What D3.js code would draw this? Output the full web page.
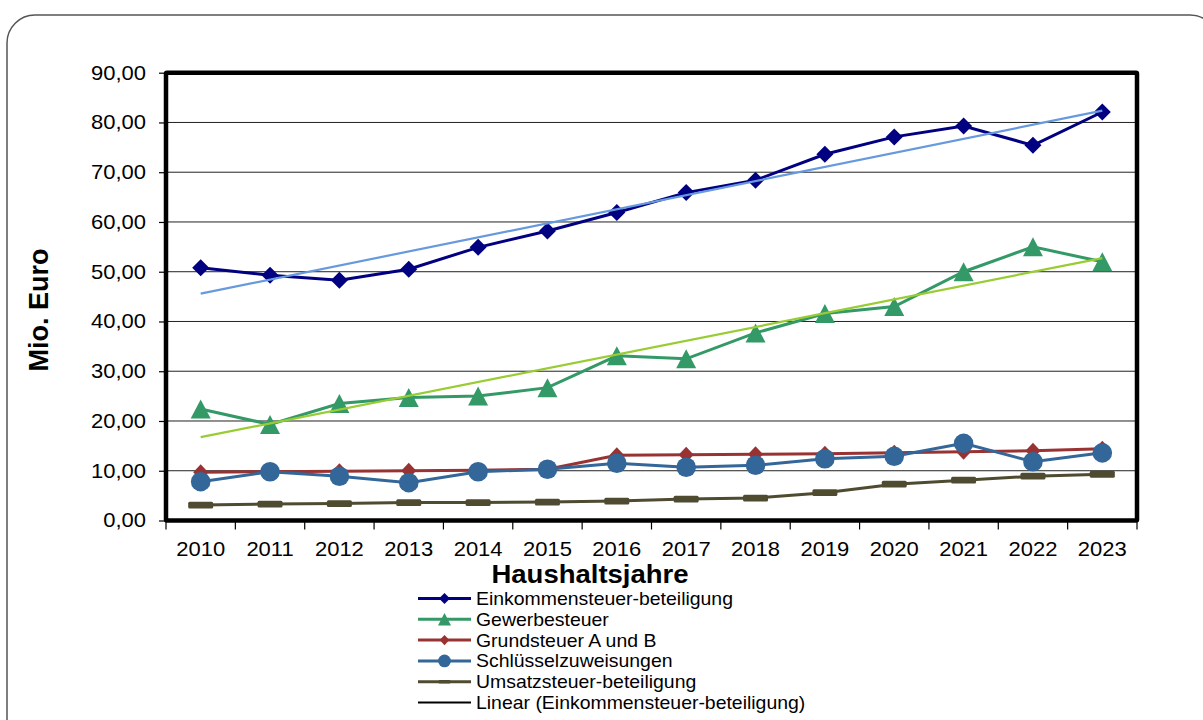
<!DOCTYPE html>
<html><head><meta charset="utf-8">
<script src="https://cdn.jsdelivr.net/npm/d3@7/dist/d3.min.js"></script>
<style>
html,body{margin:0;padding:0;background:#fff;}
svg{display:block;font-family:"Liberation Sans",Arial,sans-serif;}
</style></head>
<body>
<svg id="c" width="1203" height="720"></svg>
<script>
const years = ["2010","2011","2012","2013","2014","2015","2016","2017","2018","2019","2020","2021","2022","2023"];
const einkommen = [50.8,49.3,48.3,50.5,54.9,58.2,61.9,65.9,68.4,73.6,77.1,79.3,75.4,82.1];
const gewerbe = [22.4,19.3,23.5,24.7,25.0,26.7,33.1,32.5,37.7,41.6,43.0,50.0,55.0,52.0];
const grund = [9.7,9.8,9.9,10.0,10.1,10.3,13.1,13.2,13.3,13.4,13.6,13.8,14.0,14.4];
const schluessel = [7.8,9.8,8.9,7.6,9.8,10.3,11.5,10.7,11.1,12.4,12.9,15.5,11.8,13.6];
const umsatz = [3.1,3.3,3.4,3.6,3.6,3.7,3.9,4.3,4.5,5.6,7.3,8.1,8.9,9.3];
const yTicks = [0,10,20,30,40,50,60,70,80,90];
const legendLabels = ["Einkommensteuer-beteiligung","Gewerbesteuer","Grundsteuer A und B","Schlüsselzuweisungen","Umsatzsteuer-beteiligung","Linear (Einkommensteuer-beteiligung)"];

const svg = d3.select("#c");
const L = 166, R = 1137, T = 72.7, B = 520.5;
const x = d3.scaleBand().domain(years).range([L, R]);
const y = d3.scaleLinear().domain([0, 90]).range([B, T]);
const cx = d => x(d) + x.bandwidth()/2;

// outer rounded box
svg.append("rect").attr("x",7).attr("y",15).attr("width",1211).attr("height",760)
  .attr("rx",28).attr("fill","none").attr("stroke","#555").attr("stroke-width",1.5);

// gridlines
svg.append("g").selectAll("line").data(yTicks.filter(v=>v>0 && v<90)).join("line")
  .attr("x1",L).attr("x2",R).attr("y1",d=>y(d)).attr("y2",d=>y(d))
  .attr("stroke","#222").attr("stroke-width",1);

// y axis ticks & labels
const yAxis = svg.append("g").attr("transform",`translate(${L},0)`)
  .call(d3.axisLeft(y).tickValues(yTicks).tickSize(7).tickFormat(d=>d3.format(".2f")(d).replace(".",",")));
yAxis.select(".domain").remove();
yAxis.selectAll(".tick line").attr("stroke","#000").attr("stroke-width",1.2);
yAxis.selectAll(".tick text").attr("x",0).attr("fill","#000").attr("font-size",20)
  .attr("font-family","Liberation Sans, Arial, sans-serif")
  .attr("transform","translate(-20,0) scale(1.1,1)");

// x axis ticks (between categories)
const xg = svg.append("g");
const bounds = years.map(d=>x(d)).concat([R]);
xg.selectAll("line").data(bounds).join("line")
  .attr("x1",d=>d).attr("x2",d=>d).attr("y1",B).attr("y2",B+9)
  .attr("stroke","#000").attr("stroke-width",1.2);
xg.selectAll("text").data(years).join("text")
  .attr("transform",d=>`translate(${cx(d)},556) scale(1.1,1)`)
  .attr("text-anchor","middle").attr("font-size",20).attr("fill","#000").text(d=>d);

// frame
svg.append("rect").attr("x",L).attr("y",T).attr("width",R-L).attr("height",B-T)
  .attr("fill","none").attr("stroke","#000").attr("stroke-width",4.5).attr("rx",1);

// titles
svg.append("text").attr("transform","translate(590,583) scale(1.1,1)").attr("text-anchor","middle")
  .attr("font-size",25).attr("font-weight","bold").attr("fill","#000").text("Haushaltsjahre");
svg.append("text").attr("transform","translate(48,310) rotate(-90)").attr("text-anchor","middle")
  .attr("font-size",27).attr("font-weight","bold").attr("fill","#000").text("Mio. Euro");

// marker helpers
function diamond(w,h){return `M0,${-h/2}L${w/2},0L0,${h/2}L${-w/2},0Z`;}
function triangle(w,h){return `M0,${-h/2}L${w/2},${h/2}L${-w/2},${h/2}Z`;}
function drawMarker(g, type, color, px, py, s){
  if(type==="diamond") g.append("path").attr("d",diamond(17*s,17*s)).attr("transform",`translate(${px},${py})`).attr("fill",color);
  else if(type==="diamondR") g.append("path").attr("d",diamond(15*s,16*s)).attr("transform",`translate(${px},${py})`).attr("fill",color);
  else if(type==="triangle") g.append("path").attr("d",triangle(20*s,19*s)).attr("transform",`translate(${px},${py})`).attr("fill",color);
  else if(type==="circle") g.append("circle").attr("cx",px).attr("cy",py).attr("r",9.8*s).attr("fill",color);
  else if(type==="rect") g.append("rect").attr("x",px-12.5*s).attr("y",py-3.4*s).attr("width",25*s).attr("height",6.8*s).attr("rx",1.5).attr("fill",color);
}

const series = [
  {vals:einkommen, color:"#000080", m:"diamond"},
  {vals:gewerbe, color:"#339966", m:"triangle"},
  {vals:grund, color:"#993333", m:"diamondR"},
  {vals:schluessel, color:"#336699", m:"circle"},
  {vals:umsatz, color:"#4f4b30", m:"rect"}
];
const line = d3.line().x((d,i)=>cx(years[i])).y(d=>y(d));
series.forEach(s=>{
  const g = svg.append("g");
  g.append("path").datum(s.vals).attr("d",line).attr("fill","none").attr("stroke",s.color).attr("stroke-width",3);
  s.vals.forEach((v,i)=>drawMarker(g, s.m, s.color, cx(years[i]), y(v), 1));
});

// linear trendlines (least squares)
function trend(vals){
  const n=vals.length, xs=d3.range(n), mx=d3.mean(xs), my=d3.mean(vals);
  const b=d3.sum(xs,(xi,i)=>(xi-mx)*(vals[i]-my))/d3.sum(xs,xi=>(xi-mx)*(xi-mx));
  const a=my-b*mx; return [a, a+b*(n-1)];
}
[[einkommen,"#6699dd"],[gewerbe,"#99cc33"]].forEach(([vals,col])=>{
  const [v0,v1]=trend(vals);
  svg.append("line").attr("x1",cx(years[0])).attr("x2",cx(years[years.length-1]))
    .attr("y1",y(v0)).attr("y2",y(v1)).attr("stroke",col).attr("stroke-width",2.2);
});

// legend
const lg = svg.append("g");
const legendTypes = [["diamond","#000080"],["triangle","#339966"],["diamondR","#993333"],["circle","#336699"],["rect","#4f4b30"],[null,"#000"]];
legendLabels.forEach((lab,i)=>{
  const yy = 598.5 + i*20.8;
  const [t,c] = legendTypes[i];
  lg.append("line").attr("x1",418).attr("x2",471).attr("y1",yy).attr("y2",yy)
    .attr("stroke",c).attr("stroke-width",t?3:2);
  if(t) drawMarker(lg, t, c, 444.5, yy, t==="rect"?0.5:0.65);
  lg.append("text").attr("transform",`translate(476,${yy+6.5}) scale(1.08,1)`)
    .attr("font-size",18).attr("fill","#000").text(lab);
});
</script>
</body></html>
